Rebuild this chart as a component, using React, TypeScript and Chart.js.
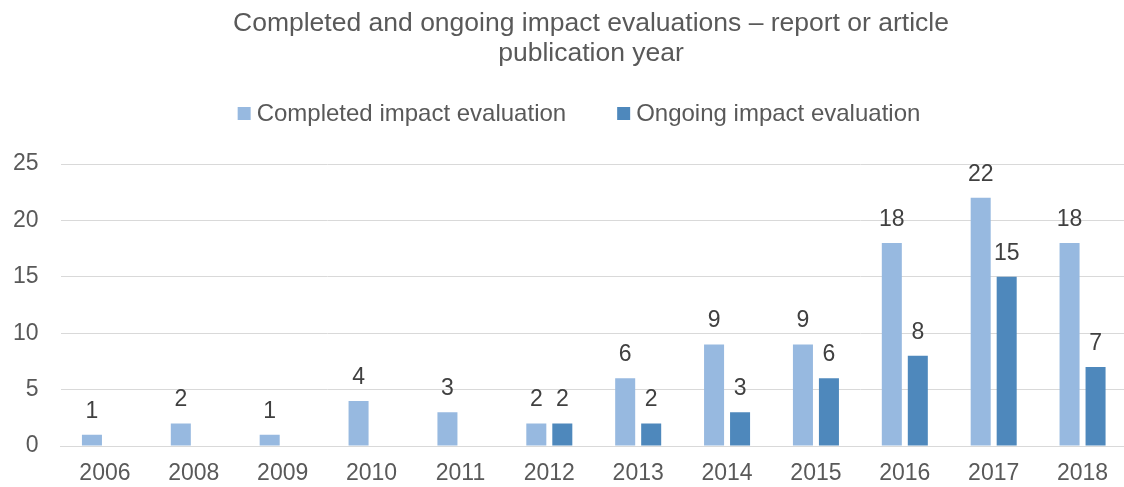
import React, { useEffect, useRef } from "react";
import { Chart, registerables } from "chart.js";

Chart.register(...registerables);

const FONT = "'Liberation Sans', Arial, sans-serif";

const TITLE_LINES = ["Completed and ongoing impact evaluations – report or article", "publication year"];
const YEARS = ["2006", "2008", "2009", "2010", "2011", "2012", "2013", "2014", "2015", "2016", "2017", "2018"];
const COMPLETED = [1, 2, 1, 4, 3, 2, 6, 9, 9, 18, 22, 18];
const ONGOING = [null, null, null, null, null, 2, 2, 3, 6, 8, 15, 7];
const SERIES_NAMES = ["Completed impact evaluation", "Ongoing impact evaluation"];
const COLORS = ["#97B9E0", "#4E88BC"];
const Y_MAX = 25;
const Y_STEP = 5;

const overlay = {
  id: "overlay",
  afterDatasetsDraw(chart: any) {
    const ctx = chart.ctx as CanvasRenderingContext2D;
    ctx.save();
    // data labels
    ctx.font = `23px ${FONT}`;
    ctx.fillStyle = "#404040";
    ctx.textAlign = "center";
    ctx.textBaseline = "alphabetic";
    chart.data.datasets.forEach((ds: any, i: number) => {
      const meta = chart.getDatasetMeta(i);
      meta.data.forEach((bar: any, j: number) => {
        const v = ds.data[j];
        if (v == null || v === 0) return;
        ctx.fillText(String(v), bar.x, bar.y - 17);
      });
    });
    // title
    ctx.font = `26.5px ${FONT}`;
    ctx.fillStyle = "#595959";
    ctx.fillText(TITLE_LINES[0], 591, 31);
    ctx.fillText(TITLE_LINES[1], 591, 61);
    // legend
    ctx.font = `24px ${FONT}`;
    ctx.textAlign = "left";
    ctx.textBaseline = "middle";
    const box = 13;
    const gapText = 6;
    const gapItem = 51;
    const w1 = ctx.measureText(SERIES_NAMES[0]).width;
    const w2 = ctx.measureText(SERIES_NAMES[1]).width;
    const total = box + gapText + w1 + gapItem + box + gapText + w2;
    let x = 579 - total / 2;
    const yc = 113.5;
    [0, 1].forEach((k) => {
      ctx.fillStyle = COLORS[k];
      ctx.fillRect(x, yc - box / 2, box, box);
      x += box + gapText;
      ctx.fillStyle = "#595959";
      ctx.fillText(SERIES_NAMES[k], x, yc + 1);
      x += (k === 0 ? w1 : w2) + gapItem;
    });
    ctx.restore();
  },
};

export default function App() {
  const ref = useRef<HTMLCanvasElement | null>(null);
  useEffect(() => {
    if (!ref.current) return;
    const chart = new Chart(ref.current, {
      type: "bar",
      data: {
        labels: YEARS,
        datasets: [
          {
            label: SERIES_NAMES[0],
            data: COMPLETED,
            backgroundColor: COLORS[0],
            categoryPercentage: 0.585,
            barPercentage: 0.77,
          },
          {
            label: SERIES_NAMES[1],
            data: ONGOING as any,
            backgroundColor: COLORS[1],
            categoryPercentage: 0.585,
            barPercentage: 0.77,
          },
        ],
      },
      options: {
        animation: false,
        responsive: true,
        maintainAspectRatio: false,
        layout: { padding: { top: 164, right: 13, bottom: 0, left: 0 } },
        plugins: {
          legend: { display: false },
          title: { display: false },
          tooltip: { enabled: false },
        },
        scales: {
          x: {
            grid: { display: false, drawTicks: false },
            border: { display: true, color: "#D9D9D9", width: 1 },
            ticks: {
              color: "#595959",
              font: { family: FONT, size: 23 },
              padding: 14,
              maxRotation: 0,
              autoSkip: false,
            },
            afterFit: (scale: any) => {
              scale.height = 41;
            },
          },
          y: {
            min: 0,
            max: Y_MAX,
            grid: { color: "#D9D9D9", lineWidth: 1, drawTicks: false },
            border: { display: false },
            ticks: {
              stepSize: Y_STEP,
              color: "#595959",
              font: { family: FONT, size: 23 },
              padding: 22,
            },
            afterFit: (scale: any) => {
              scale.width = 60.5;
            },
          },
        },
      },
      plugins: [overlay],
    });
    return () => chart.destroy();
  }, []);

  return (
    <div
      style={{
        position: "fixed",
        left: 0,
        top: 0,
        width: 1124,
        height: 487,
        overflow: "hidden",
        background: "#fff",
      }}
    >
      <div style={{ width: 1140, height: 487, position: "relative" }}>
        <canvas ref={ref} />
      </div>
    </div>
  );
}
